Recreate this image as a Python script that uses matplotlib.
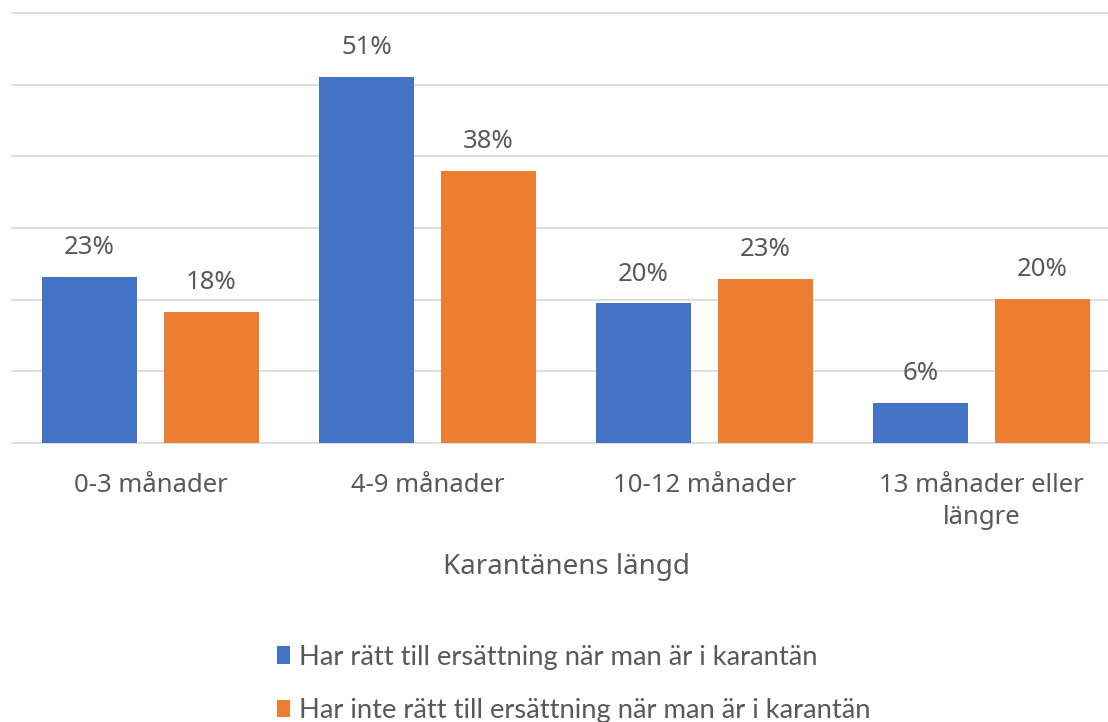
import matplotlib.pyplot as plt
import numpy as np

# data (percent)
categories = ["0-3 månader", "4-9 månader", "10-12 månader", "13 månader eller\nlängre"]
series_names = ["Har rätt till ersättning när man är i karantän",
                "Har inte rätt till ersättning när man är i karantän"]
with_comp = [23.2, 51.1, 19.5, 5.6]
without_comp = [18.3, 38.0, 22.9, 20.1]
with_labels = ["23%", "51%", "20%", "6%"]
without_labels = ["18%", "38%", "23%", "20%"]
y_ticks = [0, 10, 20, 30, 40, 50, 60]

blue = "#4472C4"
orange = "#ED7D31"
grey_text = "#595959"
main_font = ["Noto Sans", "DejaVu Sans"]
legend_font = ["Lato", "DejaVu Sans"]

fig = plt.figure(figsize=(11.08, 7.22), dpi=100)
ax = fig.add_axes([12 / 1108, (722 - 443) / 722, 1096 / 1108, 430 / 722])

x = np.arange(len(categories))
w = 0.34
off = 0.22
b1 = ax.bar(x - off, with_comp, w, color=blue, label=series_names[0], zorder=3)
b2 = ax.bar(x + off, without_comp, w, color=orange, label=series_names[1], zorder=3)

for bars, labs in ((b1, with_labels), (b2, without_labels)):
    for rect, lab in zip(bars, labs):
        ax.annotate(lab, (rect.get_x() + rect.get_width() / 2, rect.get_height()),
                    xytext=(0, 12), textcoords="offset points", ha="center", va="bottom",
                    fontsize=18.5, color=grey_text, family=main_font)

ax.set_xlim(-0.5, -0.5 + 1096 / 277)
ax.set_ylim(0, 60)
ax.set_yticks(y_ticks)
ax.yaxis.grid(True, color="#D9D9D9", linewidth=1.2, zorder=0)
ax.tick_params(axis="y", left=False, labelleft=False)
ax.tick_params(axis="x", bottom=False, pad=18)
for s in ax.spines.values():
    s.set_visible(False)
for gl in ax.get_ygridlines():
    gl.set_clip_on(False)

ax.set_xticks(x)
ax.set_xticklabels(categories, fontsize=18.5, color=grey_text, family=main_font, linespacing=1.4)
for lab in ax.get_xticklabels():
    lab.set_verticalalignment("top")

fig.text(567 / 1108, 1 - 567 / 722, "Karantänens längd", ha="center", va="center",
         fontsize=20, color=grey_text, family=main_font)

fig.legend(handles=[b1, b2], loc="center left", bbox_to_anchor=(252 / 1108, 1 - 684 / 722),
           frameon=False, handlelength=0.5, handleheight=0.6, handletextpad=0.3,
           labelspacing=1.05, prop={"family": legend_font, "size": 19.7}, labelcolor=grey_text)

fig.savefig("out.png", dpi=100, facecolor="white")
